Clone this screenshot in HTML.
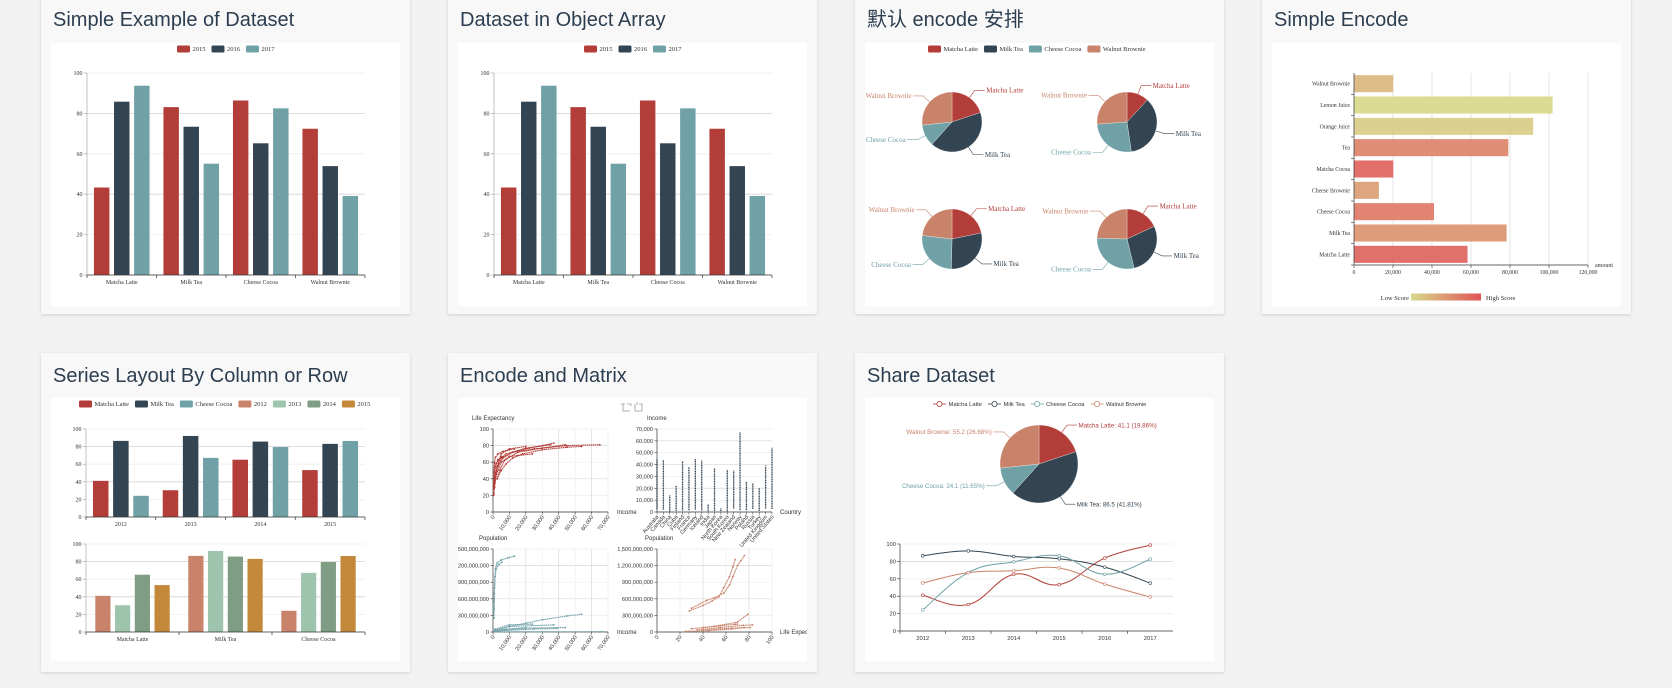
<!DOCTYPE html>
<html><head><meta charset="utf-8">
<style>
html,body{margin:0;padding:0;}
body{width:1672px;height:688px;background:#f2f2f2;position:relative;overflow:hidden;font-family:"Liberation Sans","Noto Sans CJK SC",sans-serif;}
.card{position:absolute;width:369px;background:#f8f8f8;box-shadow:0 1px 3px rgba(0,0,0,0.13);}
.chart{position:absolute;width:349px;height:263px;background:#fff;}
svg{position:absolute;left:0;top:0;}
</style></head>
<body>
<div class="card" style="left:41px;top:-3px;height:317px"></div>
<div class="card" style="left:448px;top:-3px;height:317px"></div>
<div class="card" style="left:855px;top:-3px;height:317px"></div>
<div class="card" style="left:1262px;top:-3px;height:317px"></div>
<div class="card" style="left:41px;top:353px;height:319px"></div>
<div class="card" style="left:448px;top:353px;height:319px"></div>
<div class="card" style="left:855px;top:353px;height:319px"></div>
<div class="chart" style="left:51px;top:43px"></div>
<div class="chart" style="left:458px;top:43px"></div>
<div class="chart" style="left:865px;top:43px"></div>
<div class="chart" style="left:1272px;top:43px"></div>
<div class="chart" style="left:51px;top:398px"></div>
<div class="chart" style="left:458px;top:398px"></div>
<div class="chart" style="left:865px;top:398px"></div>
<svg id="charts" width="1672" height="688">
<defs>
<clipPath id="clipM"><rect x="458" y="398" width="349" height="263"/></clipPath>
<linearGradient id="scoreGrad" x1="0" x2="1" y1="0" y2="0"><stop offset="0" stop-color="#D7DA8B"/><stop offset="1" stop-color="#E15457"/></linearGradient>
</defs>
<g font-family="Liberation Sans, Noto Sans CJK SC, sans-serif" font-size="20" fill="#2c3e50">
<text x="53" y="26">Simple Example of Dataset</text>
<text x="460" y="26">Dataset in Object Array</text>
<text x="867" y="26">默认 encode 安排</text>
<text x="1274" y="26">Simple Encode</text>
<text x="53" y="382">Series Layout By Column or Row</text>
<text x="460" y="382">Encode and Matrix</text>
<text x="867" y="382">Share Dataset</text>
</g>
</svg>
<script>
// ---------- data ----------
const productCats=['Matcha Latte','Milk Tea','Cheese Cocoa','Walnut Brownie'];
const s2015=[43.3,83.1,86.4,72.4];
const s2016=[85.8,73.4,65.2,53.9];
const s2017=[93.7,55.1,82.5,39.1];
const barTicks=[0,20,40,60,80,100];

const pieYears=['2012','2013','2014','2015'];
const pieMatcha=[41.1,30.4,65.1,53.3];
const pieMilk=[86.5,92.1,85.7,83.1];
const pieCheese=[24.1,67.2,79.5,86.4];
const pieWalnut=[55.2,67.1,69.2,72.4];

const encCats=['Matcha Latte','Milk Tea','Cheese Cocoa','Cheese Brownie','Matcha Cocoa','Tea','Orange Juice','Lemon Juice','Walnut Brownie'];
const encAmount=[58212,78254,41032,12755,20145,79146,91852,101852,20112];
const encScore=[89.3,57.1,74.4,50.1,89.7,68.1,19.6,10.6,32.7];
const encTicks=[0,20000,40000,60000,80000,100000,120000];

const layoutYears=['2012','2013','2014','2015'];
const layMatcha=[41.1,30.4,65.1,53.3];
const layMilk=[86.5,92.1,85.7,83.1];
const layCheese=[24.1,67.2,79.5,86.4];
const layoutProducts=['Matcha Latte','Milk Tea','Cheese Cocoa'];
const lay2012=[41.1,86.5,24.1];
const lay2013=[30.4,92.1,67.2];
const lay2014=[65.1,85.7,79.5];
const lay2015=[53.3,83.1,86.4];

const incomeTicks=[0,10000,20000,30000,40000,50000,60000,70000];
const lifeTicks=[0,20,40,60,80,100];
const leChina=[[300,30],[400,40],[600,48],[900,60],[1500,66],[3000,70],[6000,73],[10000,75],[13000,76]];
const leIndia=[[600,22],[700,30],[900,38],[1200,48],[1800,58],[3000,63],[5500,67]];
const leJapan=[[1200,35],[1800,45],[2500,55],[5000,65],[12000,72],[22000,77],[30000,80],[37000,83]];
const leUS=[[2500,40],[5000,50],[8000,58],[12000,65],[18000,70],[30000,75],[45000,78],[54000,79]];
const leNorway=[[1500,45],[3000,55],[6000,65],[12000,72],[25000,76],[45000,80],[65000,81]];
const leRussia=[[700,28],[1000,35],[2000,45],[5000,60],[10000,67],[15000,68],[24000,70]];
const leKorea=[[400,20],[500,28],[700,40],[1200,55],[3000,62],[8000,70],[20000,77],[35000,81]];
const leCuba=[[1000,30],[1500,42],[2500,55],[5000,70],[10000,76],[20000,79]];
const leGermany=[[2500,40],[4000,50],[7000,62],[15000,72],[30000,77],[44000,81]];
const countries=['Australia','Canada','China','Cuba','Finland','France','Germany','Iceland','India','Japan','North Korea','South Korea','New Zealand','Norway','Poland','Russia','Turkey','United Kingdom','United States'];
const incomeMax=[44500,44000,14000,22000,43000,38000,44800,43400,6700,37000,3100,35500,35000,67000,25800,24400,20200,39200,54300];
const incomeMin=[2500,2000,300,1000,1200,1500,2000,1300,600,800,700,500,2800,1500,1400,2500,1000,3000,2500];
const popTicks=[0,300,600,900,1200,1500];
const popTickLabels=['0','300,000,000','600,000,000','900,000,000','1,200,000,000','1,500,000,000'];
const lifeXTicks=[0,20,40,60,80,100];
const ipChina=[[400,420],[600,560],[800,700],[1000,850],[1200,1000],[1500,1150],[2500,1250],[5000,1300],[9000,1340],[13000,1370]];
const ipIndia=[[600,250],[700,400],[800,600],[900,800],[1200,1000],[2000,1150],[3500,1220],[5500,1260]];
const ipUS=[[2500,25],[10000,100],[20000,160],[30000,220],[45000,290],[54000,320]];
const ipJapan=[[1200,35],[10000,100],[37000,128]];
const ipGermany=[[2500,30],[20000,70],[44000,81]];
const ipRussia=[[1000,50],[10000,130],[24000,143]];
const ipUK=[[3000,20],[25000,55],[39000,64]];
const ipNorway=[[1500,2],[30000,4],[67000,5]];
const ipTurkey=[[1000,10],[8000,50],[20000,78]];
const lpChina=[[30,430],[43,570],[50,620],[58,700],[63,850],[66,1000],[70,1200],[73,1290],[76,1380]];
const lpIndia=[[28,380],[40,480],[48,560],[54,640],[58,800],[63,1000],[66,1180],[68,1310]];
const lpUS=[[40,80],[55,120],[70,180],[79,320]];
const lpJapan=[[35,40],[55,80],[75,120],[83,128]];
const lpRussia=[[30,60],[50,100],[68,140],[70,143]];
const lpGermany=[[40,30],[65,70],[81,81]];
const lpTurkey=[[25,12],[45,25],[65,55],[76,78]];

const shareYears=['2012','2013','2014','2015','2016','2017'];
const shMatcha=[41.1,30.4,65.1,53.3,83.8,98.7];
const shMilk=[86.5,92.1,85.7,83.1,73.4,55.1];
const shCheese=[24.1,67.2,79.5,86.4,65.2,82.5];
const shWalnut=[55.2,67.1,69.2,72.4,53.9,39.1];

// ---------- helpers ----------
const NS='http://www.w3.org/2000/svg';
const svg=document.getElementById('charts');
const SERIF='Liberation Serif, serif', SANS='Liberation Sans, sans-serif';
const COL={red:'#b33d38',dark:'#334452',teal:'#6fa1a7',sal:'#c8836a',lg:'#9ec4ae',g:'#7f9c84',gold:'#c3883a'};
function mk(tag,attrs,parent){const e=document.createElementNS(NS,tag);for(const k in attrs)e.setAttribute(k,attrs[k]);(parent||svg).appendChild(e);return e;}
function txt(x,y,s,attrs,parent){const t=mk('text',Object.assign({x:x,y:y},attrs),parent);t.textContent=s;return t;}
function fmt(n){return n.toString().replace(/\B(?=(\d{3})+(?!\d))/g,',');}
function lin(d0,d1,r0,r1){return v=>r0+(v-d0)/(d1-d0)*(r1-r0);}

function legend(g,x,y,items,colors,font,size,lineIcon){
  let cx=x;
  items.forEach((name,i)=>{
    let ic;
    if(lineIcon){
      ic=mk('g',{},g);
      mk('line',{x1:cx,y1:y,x2:cx+13,y2:y,stroke:colors[i],'stroke-width':0.8},ic);
      mk('circle',{cx:cx+6.5,cy:y,r:2.6,fill:'#fff',stroke:colors[i],'stroke-width':0.8},ic);
    } else {
      ic=mk('rect',{x:cx,y:y-3.5,width:13,height:7,rx:1.5,fill:colors[i]},g);
    }
    
    
    const t=txt(cx+15.5,y+2.2,name,{'font-family':font,'font-size':size,fill:'#333'},g);
    
    
    cx+=15.5+t.getComputedTextLength()+6;
  });
}

function barChart(g,o){
  const n=o.cats.length,m=o.series.length,W=(o.x1-o.x0)/n;
  const bw=0.8*W/(m+0.3*(m-1));
  const ys=lin(0,o.max,o.yBase,o.yTop);
  o.ticks.forEach((t,i)=>{
    const y=ys(t);
    if(t>0){const gl=mk('line',{x1:o.x0,y1:y,x2:o.x1,y2:y,stroke:i%2?'#eee':'#d4d4d4','stroke-width':0.8},g);
    
    }
    mk('line',{x1:o.x0-3,y1:y,x2:o.x0,y2:y,stroke:'#999','stroke-width':0.6},g);
    const lb=txt(o.x0-4.5,y+2,String(t),{'font-family':o.font,'font-size':6,'text-anchor':'end',fill:'#333'},g);
    
    
  });
  const ya=mk('line',{x1:o.x0,y1:o.yTop,x2:o.x0,y2:o.yBase,stroke:'#aaa','stroke-width':0.7},g);
  
  
  o.series.forEach((vals,si)=>{
    vals.forEach((v,ci)=>{
      const x=o.x0+ci*W+0.1*W+si*bw*1.3;
      const b=mk('rect',{x:x,y:ys(v),width:bw,height:o.yBase-ys(v),fill:o.colors[si]},g);
      
      
    });
  });
  const xa=mk('line',{x1:o.x0,y1:o.yBase,x2:o.x1,y2:o.yBase,stroke:'#333','stroke-width':0.8},g);
  
  
  for(let i=0;i<=n;i++)mk('line',{x1:o.x0+i*W,y1:o.yBase,x2:o.x0+i*W,y2:o.yBase+3,stroke:'#333','stroke-width':0.7},g);
  o.cats.forEach((c,i)=>{
    const lb=txt(o.x0+(i+0.5)*W,o.yBase+9,c,{'font-family':o.font,'font-size':6,'text-anchor':'middle',fill:'#333'},g);
    
    
  });
}

function pie(g,cx,cy,r,vals,colors,labels,font,size){
  const tot=vals.reduce((a,b)=>a+b,0);let a0=0;
  vals.forEach((v,i)=>{
    const a1=a0+v/tot*Math.PI*2;
    const p=(a)=>[cx+r*Math.sin(a),cy-r*Math.cos(a)];
    const [x0,y0]=p(a0),[x1,y1]=p(a1);
    const s=mk('path',{d:`M${cx},${cy}L${x0},${y0}A${r},${r} 0 ${a1-a0>Math.PI?1:0} 1 ${x1},${y1}Z`,fill:colors[i],stroke:'#fff','stroke-width':0.3},g);
    
    
    const am=(a0+a1)/2,sx=Math.sin(am),cy2=Math.cos(am);
    const ex=cx+r*sx,ey=cy-r*cy2,ox=cx+(r+9)*sx,oy=cy-(r+9)*cy2;
    const dir=sx>=0?1:-1,hx=ox+dir*10;
    mk('polyline',{points:`${ex},${ey} ${ox},${oy} ${hx},${oy}`,fill:'none',stroke:colors[i],'stroke-width':0.6},g);
    const t=txt(hx+dir*1.5,oy+2.3,labels[i],{'font-family':font,'font-size':size,fill:colors[i],'text-anchor':dir>0?'start':'end'},g);
    
    
    a0=a1;
  });
}

function gridXY(g,o){
  // o: x0,x1,y0(pixel bottom),y1(pixel top), xd,yd domains, xticks, yticks, ylabels, xlabels, rotate
  const xs=lin(o.xd[0],o.xd[1],o.x0,o.x1), ys=lin(o.yd[0],o.yd[1],o.y0,o.y1);
  o.yticks.forEach((t,i)=>{const y=ys(t);
    if(i>0)mk('line',{x1:o.x0,y1:y,x2:o.x1,y2:y,stroke:i%2?'#eee':'#d8d8d8','stroke-width':0.7},g);
    mk('line',{x1:o.x0-2.5,y1:y,x2:o.x0,y2:y,stroke:'#333','stroke-width':0.6},g);
    const l=txt(o.x0-4,y+2,o.ylabels[i],{'font-family':SANS,'font-size':5.6,'text-anchor':'end',fill:'#333'},g);
    
    });
  if(o.xticks){o.xticks.forEach((t,i)=>{const x=xs(t);
    if(i>0)mk('line',{x1:x,y1:o.y1,x2:x,y2:o.y0,stroke:i%2?'#eee':'#d8d8d8','stroke-width':0.7},g);
    mk('line',{x1:x,y1:o.y0,x2:x,y2:o.y0+2.5,stroke:'#333','stroke-width':0.6},g);
    const l=txt(x+2,o.y0+5,o.xlabels[i],{'font-family':SANS,'font-size':5.6,'text-anchor':'end',fill:'#333',transform:`rotate(-55 ${x+2} ${o.y0+5})`},g);
    
    });}
  mk('line',{x1:o.x0,y1:o.y1,x2:o.x0,y2:o.y0,stroke:'#333','stroke-width':0.7},g);
  mk('line',{x1:o.x0,y1:o.y0,x2:o.x1,y2:o.y0,stroke:'#333','stroke-width':0.7},g);
  return [xs,ys];
}
function trail(g,pts,xs,ys,color,scaleY){
  const d=pts.map(p=>xs(p[0])+','+ys(p[1]*(scaleY||1))).join(' ');
  const pl=mk('polyline',{points:d,fill:'none',stroke:color,'stroke-width':1.1,'stroke-dasharray':'1.4 0.5'},g);
  
  
  pts.forEach(p=>{const c=mk('circle',{cx:xs(p[0]),cy:ys(p[1]*(scaleY||1)),r:0.9,fill:color},g);
    
    });
}
function smoothPath(pts){
  let d=`M${pts[0][0]},${pts[0][1]}`;
  for(let i=0;i<pts.length-1;i++){
    const p0=pts[i-1]||pts[i],p1=pts[i],p2=pts[i+1],p3=pts[i+2]||p2;
    const c1=[p1[0]+(p2[0]-p0[0])*0.2,p1[1]+(p2[1]-p0[1])*0.2];
    const c2=[p2[0]-(p3[0]-p1[0])*0.2,p2[1]-(p3[1]-p1[1])*0.2];
    d+=`C${c1[0]},${c1[1]} ${c2[0]},${c2[1]} ${p2[0]},${p2[1]}`;
  }
  return d;
}

// ---------- chart 1 & 2 ----------
[[0,'chart-simple-example'],[407,'chart-object-array']].forEach(([dx,name])=>{
  const g=mk('g',{});
  
  
  legend(g,177+dx,49,['2015','2016','2017'],[COL.red,COL.dark,COL.teal],SERIF,6.5);
  barChart(g,{x0:87+dx,x1:365+dx,yBase:275,yTop:73,max:100,ticks:barTicks,cats:productCats,series:[s2015,s2016,s2017],colors:[COL.red,COL.dark,COL.teal],font:SERIF});
});

// ---------- chart 3 pies ----------
{
  const g=mk('g',{});
  
  
  legend(g,928,49,productCats,[COL.red,COL.dark,COL.teal,COL.sal],SERIF,6.5);
  const centers=[[952,122],[1127,122],[952,239],[1127,239]];
  pieYears.forEach((y,i)=>{
    pie(g,centers[i][0],centers[i][1],30,[pieMatcha[i],pieMilk[i],pieCheese[i],pieWalnut[i]],[COL.red,COL.dark,COL.teal,COL.sal],productCats,SERIF,7);
  });
}

// ---------- chart 4 simple encode ----------
{
  const g=mk('g',{});
  
  
  const xs=lin(0,120000,1354,1588),top=73,bot=265,band=(bot-top)/encCats.length;
  encTicks.forEach(t=>{
    if(t>0)mk('line',{x1:xs(t),y1:top,x2:xs(t),y2:bot,stroke:'#ddd','stroke-width':0.8},g);
    mk('line',{x1:xs(t),y1:bot,x2:xs(t),y2:bot+3,stroke:'#333','stroke-width':0.6},g);
    const l=txt(xs(t),bot+9,fmt(t),{'font-family':SERIF,'font-size':5.8,'text-anchor':'middle',fill:'#333'},g);
    
    
  });
  const c0=[0xD7,0xDA,0x8B],c1=[0xE1,0x54,0x57];
  encCats.forEach((c,i)=>{
    const yc=bot-(i+0.5)*band, f=(encScore[i]-10)/90;
    const col='rgb('+c0.map((v,k)=>Math.round(v+(c1[k]-v)*f)).join(',')+')';
    const b=mk('rect',{x:xs(0),y:yc-band*0.4,width:xs(encAmount[i])-xs(0),height:band*0.8,fill:col,'fill-opacity':0.92},g);
    
    
    const l=txt(1350,yc+2,c,{'font-family':SERIF,'font-size':5.8,'text-anchor':'end',fill:'#333'},g);
    
    
    mk('line',{x1:1351,y1:bot-i*band,x2:1354,y2:bot-i*band,stroke:'#333','stroke-width':0.6},g);
  });
  mk('line',{x1:1354,y1:top,x2:1354,y2:bot,stroke:'#333','stroke-width':0.7},g);
  mk('line',{x1:1354,y1:bot,x2:1588,y2:bot,stroke:'#333','stroke-width':0.7},g);
  txt(1595,bot+2,'amount',{'font-family':SERIF,'font-size':6,fill:'#333'},g);
  txt(1409,300,'Low Score',{'font-family':SERIF,'font-size':6.5,'text-anchor':'end',fill:'#333'},g);
  const vm=mk('rect',{x:1411,y:293.5,width:70,height:7,fill:'url(#scoreGrad)'},g);
  
  
  txt(1486,300,'High Score',{'font-family':SERIF,'font-size':6.5,fill:'#333'},g);
}

// ---------- chart 5 series layout ----------
{
  const g=mk('g',{});
  
  
  legend(g,79,404,['Matcha Latte','Milk Tea','Cheese Cocoa','2012','2013','2014','2015'],[COL.red,COL.dark,COL.teal,COL.sal,COL.lg,COL.g,COL.gold],SERIF,6.5);
  barChart(g,{x0:86,x1:365,yBase:517,yTop:429,max:100,ticks:barTicks,cats:layoutYears,series:[layMatcha,layMilk,layCheese],colors:[COL.red,COL.dark,COL.teal],font:SERIF});
  barChart(g,{x0:86,x1:365,yBase:632,yTop:544,max:100,ticks:barTicks,cats:layoutProducts,series:[lay2012,lay2013,lay2014,lay2015],colors:[COL.sal,COL.lg,COL.g,COL.gold],font:SERIF});
}

// ---------- chart 6 encode and matrix ----------
{
  const g=mk('g',{'clip-path':'url(#clipM)'});
  
  
  const tb=mk('g',{fill:'none',stroke:'#999','stroke-width':0.8},g);
  
  
  mk('path',{d:'M623,404 v7 h7 M621,404 h4 M631,406 v-2 h-4'},tb);
  mk('path',{d:'M635,404 v7 h7 v-7 h-3 M637,402 v3'},tb);
  const incLabels=incomeTicks.map(fmt);
  // TL
  let [xs,ys]=gridXY(g,{x0:493,x1:608,y0:512,y1:429,xd:[0,70000],yd:[0,100],xticks:incomeTicks,yticks:lifeTicks,ylabels:lifeTicks.map(String),xlabels:incLabels});
  [leChina,leIndia,leJapan,leUS,leNorway,leRussia,leKorea,leCuba,leGermany].forEach(s=>trail(g,s,xs,ys,COL.red));
  txt(472,420,'Life Expectancy',{'font-family':SANS,'font-size':6,fill:'#333'},g);
  txt(617,514,'Income',{'font-family':SANS,'font-size':6,fill:'#333'},g);
  // TR
  const incY=lin(0,70000,512,429),cx=i=>657+i*(772-657)/(countries.length-1);
  [ ,ys]=gridXY(g,{x0:657,x1:772,y0:512,y1:429,xd:[0,1],yd:[0,70000],yticks:incomeTicks,ylabels:incLabels});
  countries.forEach((c,i)=>{
    const b=mk('line',{x1:cx(i),y1:incY(incomeMin[i]),x2:cx(i),y2:incY(incomeMax[i]),stroke:COL.dark,'stroke-width':1.3,'stroke-dasharray':'1.2 0.5'},g);
    
    
    mk('line',{x1:cx(i),y1:512,x2:cx(i),y2:514.5,stroke:'#333','stroke-width':0.5},g);
    const l=txt(cx(i)+2,517,c,{'font-family':SANS,'font-size':5.6,'text-anchor':'end',fill:'#333',transform:`rotate(-50 ${cx(i)+2} 517)`},g);
    
    
  });
  txt(647,420,'Income',{'font-family':SANS,'font-size':6,fill:'#333'},g);
  txt(780,514,'Country',{'font-family':SANS,'font-size':6,fill:'#333'},g);
  // BL
  [xs,ys]=gridXY(g,{x0:493,x1:608,y0:632,y1:549,xd:[0,70000],yd:[0,1500],xticks:incomeTicks,yticks:popTicks,ylabels:popTickLabels,xlabels:incLabels});
  [ipChina,ipIndia,ipUS,ipJapan,ipGermany,ipRussia,ipUK,ipNorway,ipTurkey].forEach(s=>trail(g,s,xs,ys,COL.teal));
  txt(479,540,'Population',{'font-family':SANS,'font-size':6,fill:'#333'},g);
  txt(617,634,'Income',{'font-family':SANS,'font-size':6,fill:'#333'},g);
  // BR
  [xs,ys]=gridXY(g,{x0:657,x1:772,y0:632,y1:549,xd:[0,100],yd:[0,1500],xticks:lifeXTicks,yticks:popTicks,ylabels:popTickLabels,xlabels:lifeXTicks.map(String)});
  [lpChina,lpIndia,lpUS,lpJapan,lpRussia,lpGermany,lpTurkey].forEach(s=>trail(g,s,xs,ys,COL.sal));
  txt(645,540,'Population',{'font-family':SANS,'font-size':6,fill:'#333'},g);
  txt(780,634,'Life Expectancy',{'font-family':SANS,'font-size':6,fill:'#333'},g);
}

// ---------- chart 7 share dataset ----------
{
  const g=mk('g',{});
  
  
  const cols=[COL.red,COL.dark,COL.teal,COL.sal];
  legend(g,933,404,productCats,cols,SANS,5.8,true);
  const pv=[shMatcha[0],shMilk[0],shCheese[0],shWalnut[0]],tot=pv.reduce((a,b)=>a+b,0);
  pie(g,1039,464,39,pv,cols,productCats.map((c,i)=>`${c}: ${pv[i]} (${(pv[i]/tot*100).toFixed(2)}%)`),SANS,6.2);
  const W=(1173-900)/shareYears.length,xs=i=>900+(i+0.5)*W,ys=lin(0,100,631,544);
  barTicks.forEach((t,i)=>{const y=ys(t);
    if(t>0)mk('line',{x1:900,y1:y,x2:1173,y2:y,stroke:i%2?'#eee':'#d4d4d4','stroke-width':0.8},g);
    mk('line',{x1:897,y1:y,x2:900,y2:y,stroke:'#333','stroke-width':0.6},g);
    const l=txt(896,y+2,String(t),{'font-family':SANS,'font-size':5.8,'text-anchor':'end',fill:'#333'},g);
    
    });
  mk('line',{x1:900,y1:544,x2:900,y2:631,stroke:'#333','stroke-width':0.7},g);
  mk('line',{x1:900,y1:631,x2:1173,y2:631,stroke:'#333','stroke-width':0.7},g);
  shareYears.forEach((y,i)=>{
    mk('line',{x1:900+i*W,y1:631,x2:900+i*W,y2:634,stroke:'#333','stroke-width':0.6},g);
    const l=txt(xs(i),640,y,{'font-family':SANS,'font-size':5.8,'text-anchor':'middle',fill:'#333'},g);
    
    });
  [shMatcha,shMilk,shCheese,shWalnut].forEach((s,si)=>{
    const pts=s.map((v,i)=>[xs(i),ys(v)]);
    const p=mk('path',{d:smoothPath(pts),fill:'none',stroke:cols[si],'stroke-width':1},g);
    
    
    pts.forEach(q=>{const c=mk('circle',{cx:q[0],cy:q[1],r:1.4,fill:'#fff',stroke:cols[si],'stroke-width':0.6},g);
      
      });
  });
}
</script>
</body></html>
